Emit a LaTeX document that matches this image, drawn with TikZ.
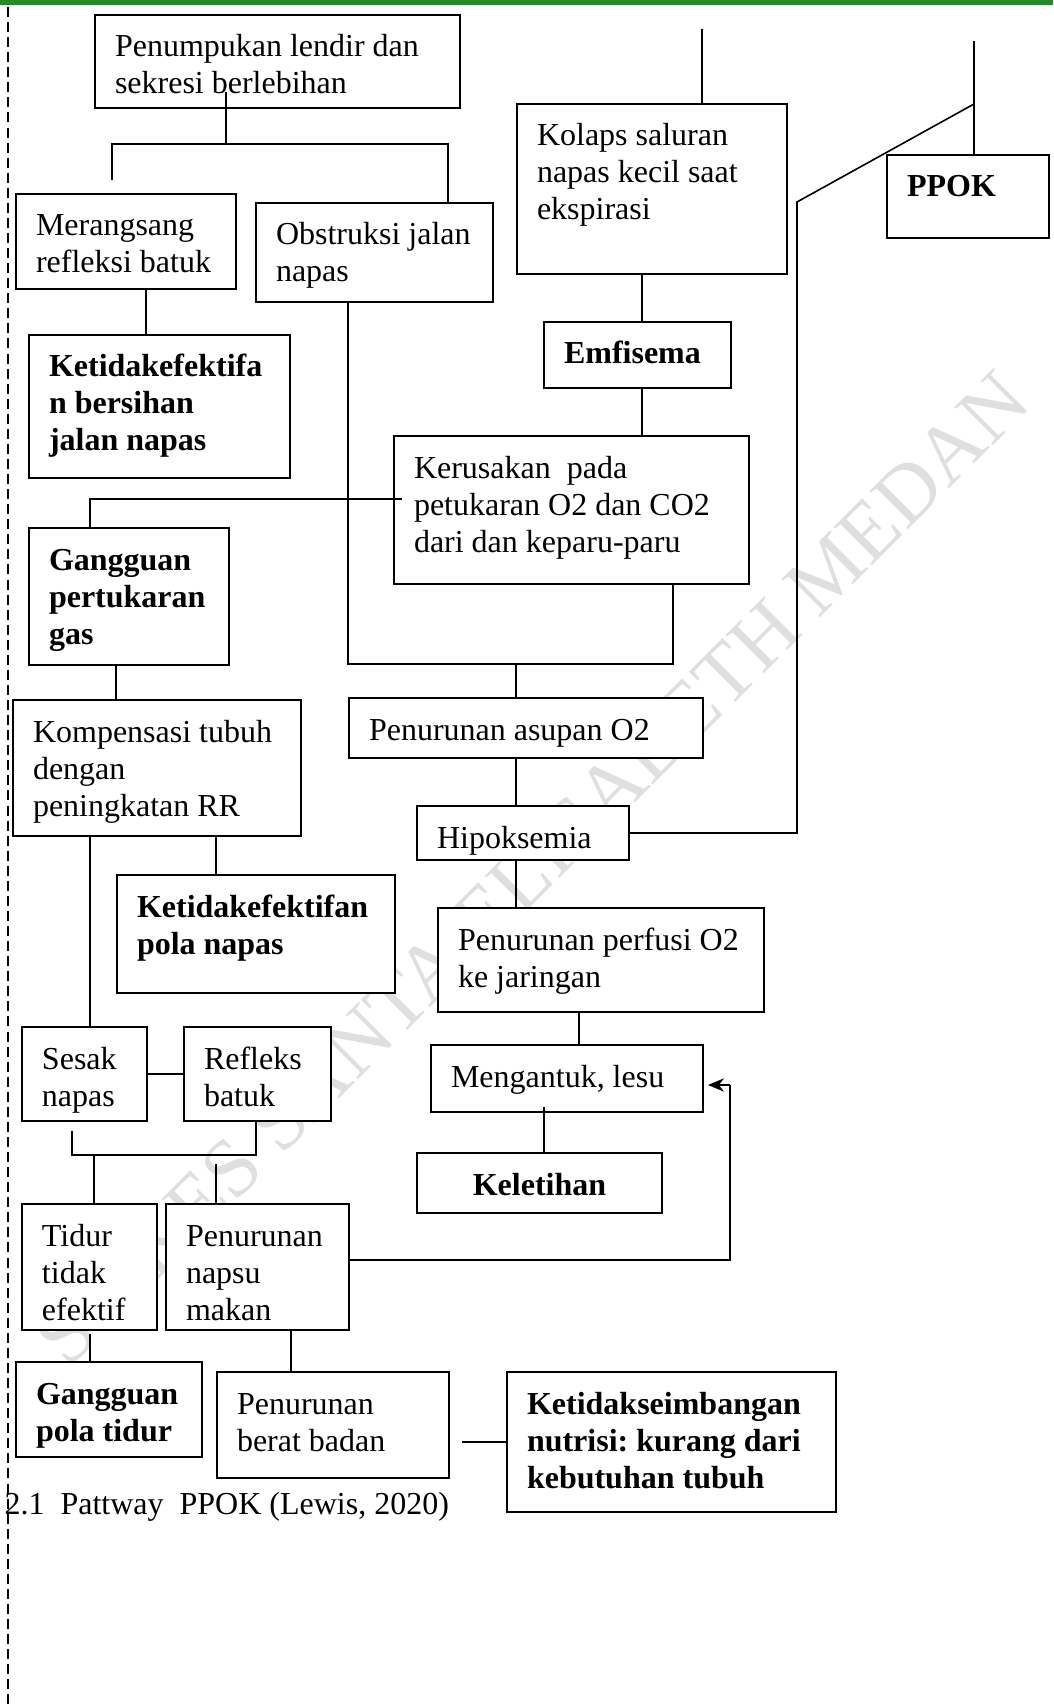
\documentclass[tikz,border=0pt]{standalone}
\usepackage{fontspec}
\setmainfont{Liberation Serif}
\usetikzlibrary{arrows.meta}
\definecolor{hijau}{RGB}{34,139,34}
\newlength{\px}
\setlength{\px}{0.375pt}
\frenchspacing

\tikzset{
  kotak/.style 2 args={draw, line width=0.75pt, fill=white, anchor=north west, inner sep=0pt,
    execute at begin node={\begin{minipage}[c][#2\px][t]{#1\px}\raggedright\leftskip=20\px\rule{0pt}{42\px}},
    execute at end node={\end{minipage}}},
  tebal/.style={font=\fontsize{12}{13.875}\selectfont\bfseries},
  garis/.style={line width=0.6pt}
}

\begin{document}
\begin{tikzpicture}[x=0.375pt, y=-0.375pt, font=\fontsize{12}{13.875}\selectfont]
                    \useasboundingbox (0,0) rectangle (1053,1707);

                    % Page marks
                    \fill[hijau] (0,0) rectangle (1053,5);
                    \draw[line width=0.55pt, dash pattern=on 3.75pt off 1.9pt] (8,7) -- (8,1707);

                    % Watermark
                    \node[rotate=45, text=gray!25, font=\fontsize{31}{31}\selectfont, inner sep=0pt] (tandaair) at (532,868) {STIKES SANTA ELISABETH MEDAN};

                    % Boxes
                    \node[kotak={365}{93}] (lendir) at (94,14) {Penumpukan lendir dan\\sekresi berlebihan};
                    \node[kotak={220}{95}] (merangsang) at (15,193) {Merangsang\\refleksi batuk};
                    \node[kotak={237}{99}] (obstruksi) at (255,202) {Obstruksi jalan\\napas};
                    \node[kotak={261}{143}, tebal] (bersihan) at (28,334) {Ketidakefektifa\\n bersihan\\jalan napas};
                    \node[kotak={270}{170}] (kolaps) at (516,103) {Kolaps saluran\\napas kecil saat\\ekspirasi};
                    \node[kotak={162}{83}, tebal] (ppok) at (886,154) {PPOK};
                    \node[kotak={187}{66}, tebal] (emfisema) at (543,321) {Emfisema};
                    \node[kotak={355}{148}] (kerusakan) at (393,435) {Kerusakan\ \ pada\\petukaran O2 dan CO2\\dari dan keparu-paru};
                    \node[kotak={200}{137}, tebal] (gastukar) at (28,527) {Gangguan\\pertukaran\\gas};
                    \node[kotak={288}{136}] (kompensasi) at (12,699) {Kompensasi tubuh\\dengan\\peningkatan RR};
                    \node[kotak={354}{60}] (asupan) at (348,697) {Penurunan asupan O2};
                    \node[kotak={212}{54}] (hipoksemia) at (416,805) {Hipoksemia};
                    \node[kotak={278}{118}, tebal] (polanapas) at (116,874) {Ketidakefektifan\\pola napas};
                    \node[kotak={326}{104}] (perfusi) at (437,907) {Penurunan perfusi O2\\ke jaringan};
                    \node[kotak={125}{94}] (sesak) at (21,1026) {Sesak\\napas};
                    \node[kotak={147}{94}] (refleks) at (183,1026) {Refleks\\batuk};
                    \node[kotak={272}{67}] (mengantuk) at (430,1044) {Mengantuk, lesu};
                    \node[kotak={245}{60}, tebal] (keletihan) at (416,1152) {\centering Keletihan\par};
                    \node[kotak={135}{126}] (tidur) at (21,1203) {Tidur\\tidak\\efektif};
                    \node[kotak={183}{126}] (napsu) at (165,1203) {Penurunan\\napsu\\makan};
                    \node[kotak={186}{95}, tebal] (polatidur) at (15,1361) {Gangguan\\pola tidur};
                    \node[kotak={232}{106}] (beratbadan) at (216,1371) {Penurunan\\berat badan};
                    \node[kotak={329}{140}, tebal] (nutrisi) at (506,1371) {Ketidakseimbangan\\nutrisi: kurang dari\\kebutuhan tubuh};

                    % Caption
                    \node[anchor=base west, inner sep=0pt] (judul) at (4,1514) {2.1\ \ Pattway\ \ PPOK (Lewis, 2020)};

                    % Branch points
                    \coordinate (c1) at (226,144);
                    \coordinate (c2) at (112,180);
                    \coordinate (c3) at (448,144);
                    \coordinate (m1) at (146,0);
                    \coordinate (o1) at (348,664);
                    \coordinate (o2) at (673,664);
                    \coordinate (o3) at (516,664);
                    \coordinate (k1) at (402,499);
                    \coordinate (k2) at (90,499);
                    \coordinate (a1) at (702,29);
                    \coordinate (e1) at (642,0);
                    \coordinate (p1) at (974,41);
                    \coordinate (p2) at (974,104);
                    \coordinate (p3) at (797,202);
                    \coordinate (g1) at (116,0);
                    \coordinate (r2) at (216,0);
                    \coordinate (n1) at (579,0);
                    \coordinate (n2) at (544,0);
                    \coordinate (s1) at (72,1131);
                    \coordinate (s2) at (72,1155);
                    \coordinate (s3) at (94,1155);
                    \coordinate (s4) at (216,1164);
                    \coordinate (s5) at (256,1155);
                    \coordinate (b1) at (291,0);
                    \coordinate (q1) at (730,1260);
                    \coordinate (q2) at (730,1085);

                    % Upper left branch
                    \draw[garis] (lendir.south -| c1) ++(0,-17) -- (c1);
                    \draw[garis] (c2) |- (c3) -- (obstruksi.north -| c3);
                    \draw[garis] (merangsang.south -| m1) -- (bersihan.north -| m1);

                    % Into Penurunan asupan O2
                    \draw[garis] (obstruksi.south -| o1) -- (o1) -- (o2) -- (kerusakan.south -| o2);
                    \draw[garis] (o3) -- (asupan.north -| o3);
                    \draw[garis] (k1) -- (k2) -- (gastukar.north -| k2);

                    % Right column
                    \draw[garis] (a1) -- (kolaps.north -| a1);
                    \draw[garis] (kolaps.south -| e1) -- (emfisema.north -| e1);
                    \draw[garis] (emfisema.south -| e1) -- (kerusakan.north -| e1);
                    \draw[garis] (p1) -- (ppok.north -| p1);
                    \draw[garis] (p2) -- (p3) |- (hipoksemia.east);

                    % Middle chain
                    \draw[garis] (asupan.south -| o3) -- (hipoksemia.north -| o3);
                    \draw[garis] (hipoksemia.south -| o3) -- (perfusi.north -| o3);
                    \draw[garis] (perfusi.south -| n1) -- (mengantuk.north -| n1);
                    \draw[garis] (mengantuk.south -| n2) ++(0,-6) -- (keletihan.north -| n2);

                    % Left chain
                    \draw[garis] (gastukar.south -| g1) -- (kompensasi.north -| g1);
                    \draw[garis] (kompensasi.south -| k2) -- (sesak.north -| k2);
                    \draw[garis] (kompensasi.south -| r2) -- (polanapas.north -| r2);
                    \draw[garis] (sesak) -- (refleks);
                    \draw[garis] (s1) -- (s2) -- (s5) -- (refleks.south -| s5);
                    \draw[garis] (s3) -- (tidur.north -| s3);
                    \draw[garis] (s4) -- (napsu.north -| s4);
                    \draw[garis] (tidur.south -| k2) ++(0,3) -- (polatidur.north -| k2);
                    \draw[garis] (napsu.south -| b1) -- (beratbadan.north -| b1);

                    % Feedback arrow
                    \draw[garis] (napsu.east |- q1) -- (q1) -- (q2);
                    \draw[garis, -{Stealth[length=6pt,width=5pt]}] (q2) -- ([xshift=1.5pt]mengantuk.east |- q2);

                    \draw[garis] ([xshift=4.5pt]beratbadan.east |- nutrisi.west) -- (nutrisi.west);
                \end{tikzpicture}
\end{document}
